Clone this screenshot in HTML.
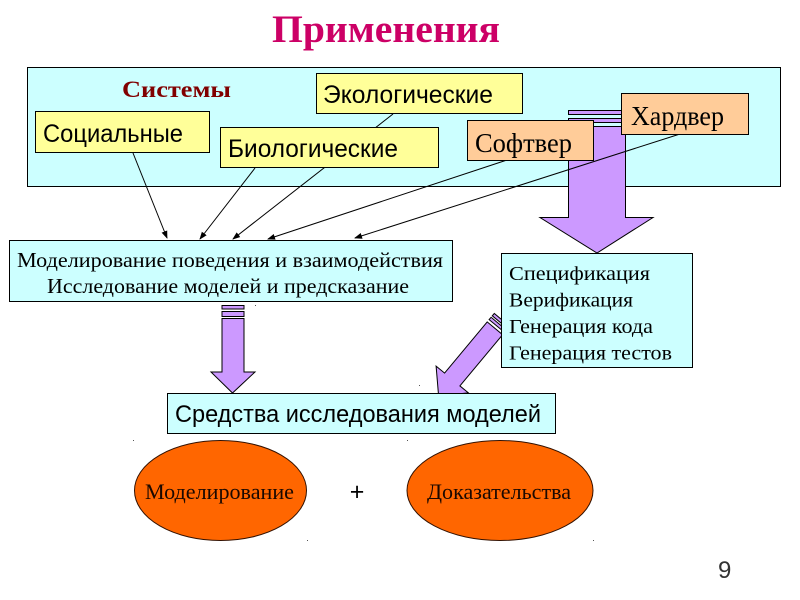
<!DOCTYPE html>
<html><head><meta charset="utf-8"><style>
html,body{margin:0;padding:0;background:#fff;width:800px;height:600px;overflow:hidden}
svg{display:block}
.sans{font-family:"Liberation Sans","DejaVu Sans",sans-serif}
.serif{font-family:"Liberation Serif","DejaVu Serif",serif}
</style></head><body>
<svg width="800" height="600" viewBox="0 0 800 600" xmlns="http://www.w3.org/2000/svg">
<defs>
<marker id="ah" markerWidth="8" markerHeight="8" refX="7" refY="4" orient="auto" markerUnits="userSpaceOnUse">
<path d="M0,1 L8,4 L0,7 z" fill="#000"/>
</marker>
</defs>
<rect width="800" height="600" fill="#fff"/>

<!-- Title -->
<text x="272" y="42" class="serif" font-weight="bold" font-size="39" fill="#cc0066" textLength="228" lengthAdjust="spacingAndGlyphs">Применения</text>

<!-- Systems panel -->
<rect x="27.5" y="67.5" width="753" height="119" fill="#ccffff" stroke="#000" stroke-width="1"/>
<text x="122" y="97" class="serif" font-weight="bold" font-size="23" fill="#800000" textLength="109" lengthAdjust="spacingAndGlyphs">Системы</text>

<!-- big purple arrow top -->
<g fill="#cc99ff" stroke="#000" stroke-width="1">
<rect x="568.5" y="110.5" width="57" height="4"/>
<rect x="568.5" y="118.5" width="57" height="4"/>
<polygon points="568.5,126.5 625.5,126.5 625.5,217.5 653,217.5 597,253 540,217.5 568.5,217.5"/>
</g>

<!-- connectors -->
<g stroke="#000" stroke-width="1" fill="none" marker-end="url(#ah)">
<line x1="133" y1="153" x2="167" y2="238"/>
<line x1="255" y1="168" x2="200" y2="239"/>
<line x1="393" y1="114" x2="233" y2="239"/>
<line x1="507" y1="160" x2="268" y2="239"/>
<line x1="680" y1="134" x2="355" y2="238"/>
</g>

<!-- system boxes -->
<rect x="316.5" y="73.5" width="206" height="40" fill="#ffff99" stroke="#000"/>
<text x="323" y="103" class="sans" font-size="25" fill="#000" textLength="170" lengthAdjust="spacingAndGlyphs">Экологические</text>

<rect x="35.5" y="111.5" width="174" height="41" fill="#ffff99" stroke="#000"/>
<text x="43" y="142" class="sans" font-size="25" fill="#000" textLength="140" lengthAdjust="spacingAndGlyphs">Социальные</text>

<rect x="220.5" y="127.5" width="218" height="40" fill="#ffff99" stroke="#000"/>
<text x="228" y="157" class="sans" font-size="25" fill="#000" textLength="170" lengthAdjust="spacingAndGlyphs">Биологические</text>

<rect x="467.5" y="120.5" width="126" height="40" fill="#ffcc99" stroke="#000"/>
<text x="475" y="152" class="serif" font-size="27" fill="#000" textLength="97" lengthAdjust="spacingAndGlyphs">Софтвер</text>

<rect x="621.5" y="93.5" width="127" height="41" fill="#ffcc99" stroke="#000"/>
<text x="631" y="125" class="serif" font-size="27" fill="#000" textLength="93" lengthAdjust="spacingAndGlyphs">Хардвер</text>

<!-- Modeling box -->
<rect x="9.5" y="240.5" width="443" height="61" fill="#ccffff" stroke="#000"/>
<text x="17" y="267" class="serif" font-size="21.5" fill="#000" textLength="426" lengthAdjust="spacingAndGlyphs">Моделирование поведения и взаимодействия</text>
<text x="47" y="293" class="serif" font-size="21.5" fill="#000" textLength="362" lengthAdjust="spacingAndGlyphs">Исследование моделей и предсказание</text>

<!-- left down arrow -->
<g fill="#cc99ff" stroke="#000" stroke-width="1">
<rect x="222" y="305.5" width="22" height="3.5"/>
<rect x="222" y="311.5" width="22" height="5"/>
<polygon points="222,318.5 244,318.5 244,372 255,372 232.5,393 211,372 222,372"/>
</g>

<!-- diagonal arrow -->
<g fill="#cc99ff" stroke="#000" stroke-width="1">
<polygon points="491.1,317.3 489.1,319.6 504.5,332.3 506.4,330.1"/>
<polygon points="494.3,313.5 492.3,315.8 507.7,328.5 509.6,326.3"/>
<polygon points="487.2,321.9 444.6,373.1 436.1,366.1 438.6,395.9 468.4,392.9 459.9,385.9 502.6,334.7"/>
</g>

<!-- Spec box -->
<rect x="501.5" y="253.5" width="191" height="114" fill="#ccffff" stroke="#000"/>
<g class="serif" font-size="19.5" fill="#000">
<text x="509" y="280" textLength="141" lengthAdjust="spacingAndGlyphs">Спецификация</text>
<text x="509" y="306.5" textLength="124" lengthAdjust="spacingAndGlyphs">Верификация</text>
<text x="509" y="333" textLength="144" lengthAdjust="spacingAndGlyphs">Генерация кода</text>
<text x="509" y="359.5" textLength="163" lengthAdjust="spacingAndGlyphs">Генерация тестов</text>
</g>

<!-- Tools box -->
<rect x="167.5" y="393.5" width="388" height="40" fill="#ccffff" stroke="#000"/>
<text x="175" y="422" class="sans" font-size="24.5" fill="#000" textLength="366" lengthAdjust="spacingAndGlyphs">Средства исследования моделей</text>

<!-- ellipses -->
<ellipse cx="220.5" cy="490.5" rx="86" ry="50" fill="#ff6600" stroke="#331100" stroke-width="1"/>
<text x="145" y="499" class="serif" font-size="22" fill="#1a0800" textLength="149" lengthAdjust="spacingAndGlyphs">Моделирование</text>
<ellipse cx="500" cy="490.5" rx="93" ry="50" fill="#ff6600" stroke="#331100" stroke-width="1"/>
<text x="427" y="499" class="serif" font-size="22" fill="#1a0800" textLength="144" lengthAdjust="spacingAndGlyphs">Доказательства</text>

<text x="357" y="500" class="sans" font-size="25" fill="#000" text-anchor="middle">+</text>

<text x="718" y="578" class="sans" font-size="24" fill="#333">9</text>

<!-- small placeholder dots -->
<g fill="#555">
<rect x="133" y="440" width="1" height="1"/>
<rect x="307" y="540" width="1" height="1"/>
<rect x="407" y="440" width="1" height="1"/>
<rect x="593" y="540" width="1" height="1"/>
<rect x="255" y="305" width="1" height="1"/>
<rect x="419" y="385" width="1" height="1"/>
</g>
</svg>
</body></html>
